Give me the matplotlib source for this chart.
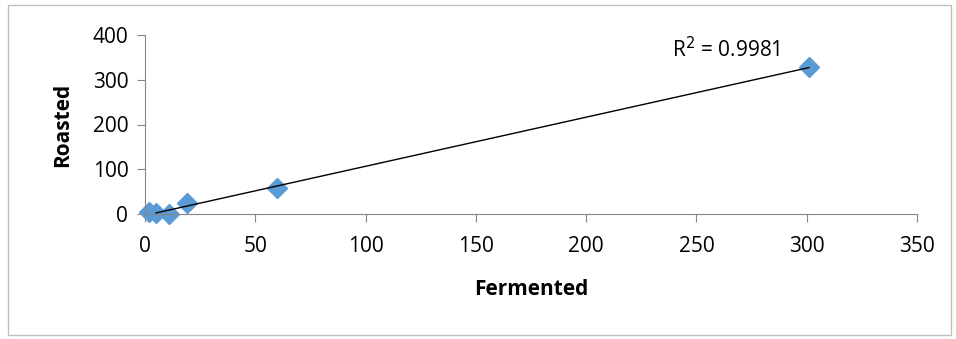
import numpy as np
import matplotlib
matplotlib.use("Agg")
import matplotlib.pyplot as plt
from matplotlib.patches import Rectangle

fermented = [2, 5, 11, 19, 60, 301]
roasted = [5, 3, 0, 24, 58, 328]
r2_label = "R$^2$ = 0.9981"
x_ticks = [0, 50, 100, 150, 200, 250, 300, 350]
y_ticks = [0, 100, 200, 300, 400]

plt.rcParams['font.family'] = ['Open Sans', 'DejaVu Sans']

fig = plt.figure(figsize=(9.56, 3.39), dpi=100)
W, H = 956, 339
ax = fig.add_axes([145 / W, 1 - 214 / H, (917 - 145) / W, (214 - 35) / H])

fig.patches.append(Rectangle((8 / W, 4 / H), (951 - 8) / W, (334 - 4) / H,
                             transform=fig.transFigure, fill=False,
                             edgecolor='#bfbfbf', linewidth=1))

x = np.array(fermented, dtype=float)
y = np.array(roasted, dtype=float)
m, b = np.polyfit(x, y, 1)
xf = np.array([x.min() + 3, x.max()])
ax.plot(xf, m * xf + b, color='black', linewidth=1, zorder=3)
ax.plot(x, y, linestyle='none', marker='D', markersize=10,
        color='#5b9bd5', zorder=2, clip_on=False)

ax.set_xlim(0, 350)
ax.set_ylim(0, 400)
ax.set_xticks(x_ticks)
ax.set_yticks(y_ticks)
ax.tick_params(axis='both', labelsize=15, color='#868686', length=6,
               direction='out', labelcolor='black')
ax.tick_params(axis='x', pad=10)
ax.tick_params(axis='y', pad=6)
for s in ['top', 'right']:
    ax.spines[s].set_visible(False)
for s in ['left', 'bottom']:
    ax.spines[s].set_color('#868686')
ax.set_xlabel('Fermented', fontsize=15, fontweight='bold', labelpad=16)
ax.set_ylabel('Roasted', fontsize=15, fontweight='bold', labelpad=14)
ax.text(726 / W, 1 - 50 / H, r2_label, transform=fig.transFigure,
        fontsize=15, ha='center', va='center')

fig.savefig('out.png', dpi=100)
